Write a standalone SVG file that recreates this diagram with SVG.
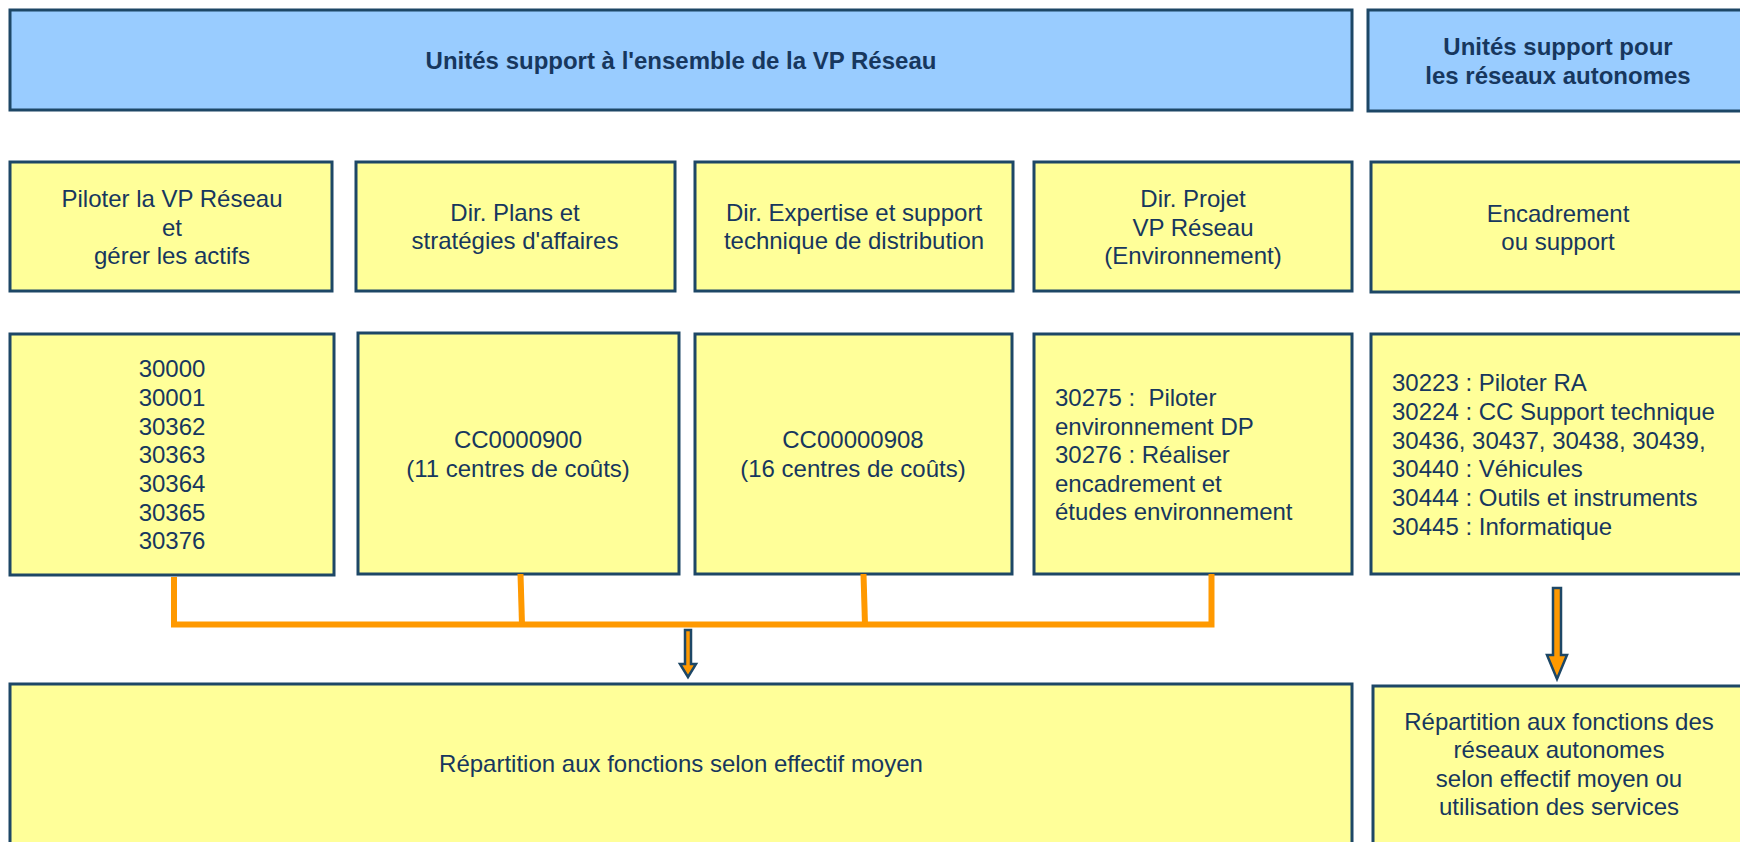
<svg xmlns="http://www.w3.org/2000/svg" width="1740" height="842" viewBox="0 0 1740 842">
<style>
.blue{fill:#99CCFF;stroke:#1D4766;stroke-width:3}
.yel{fill:#FFFF99;stroke:#1D4766;stroke-width:3}
text{font-family:"Liberation Sans",Arial,sans-serif;font-size:24px;fill:#17375E}
.c{text-anchor:middle}
.b{font-weight:bold}
.con{fill:none;stroke:#FF9900;stroke-width:6}
.arr{fill:#FF9900;stroke:#1D4766;stroke-width:2.5;stroke-linejoin:miter}
</style>
<rect width="1740" height="842" fill="#FFFFFF"/>
<g id="title-vp">
<rect class="blue" x="10" y="10" width="1342" height="100"/>
<text class="c b" x="681" y="69">Unités support à l'ensemble de la VP Réseau</text>
</g>
<g id="title-ra">
<rect class="blue" x="1368" y="10" width="380" height="101"/>
<text class="c b" x="1558" y="55">Unités support pour</text>
<text class="c b" x="1558" y="84">les réseaux autonomes</text>
</g>
<g id="h-piloter">
<rect class="yel" x="10" y="162" width="322" height="129"/>
<text class="c" x="172" y="207">Piloter la VP Réseau</text>
<text class="c" x="172" y="236">et</text>
<text class="c" x="172" y="264">gérer les actifs</text>
</g>
<g id="h-plans">
<rect class="yel" x="356" y="162" width="319" height="129"/>
<text class="c" x="515" y="221">Dir. Plans et</text>
<text class="c" x="515" y="249">stratégies d'affaires</text>
</g>
<g id="h-expertise">
<rect class="yel" x="695" y="162" width="318" height="129"/>
<text class="c" x="854" y="221">Dir. Expertise et support</text>
<text class="c" x="854" y="249">technique de distribution</text>
</g>
<g id="h-projet">
<rect class="yel" x="1034" y="162" width="318" height="129"/>
<text class="c" x="1193" y="207">Dir. Projet</text>
<text class="c" x="1193" y="236">VP Réseau</text>
<text class="c" x="1193" y="264">(Environnement)</text>
</g>
<g id="h-encadrement">
<rect class="yel" x="1371" y="162" width="380" height="130"/>
<text class="c" x="1558" y="222">Encadrement</text>
<text class="c" x="1558" y="250">ou support</text>
</g>
<g id="c-piloter">
<rect class="yel" x="10" y="334" width="324" height="241"/>
<text class="c" x="172" y="377">30000</text>
<text class="c" x="172" y="406">30001</text>
<text class="c" x="172" y="435">30362</text>
<text class="c" x="172" y="463">30363</text>
<text class="c" x="172" y="492">30364</text>
<text class="c" x="172" y="521">30365</text>
<text class="c" x="172" y="549">30376</text>
</g>
<g id="c-plans">
<rect class="yel" x="358" y="333" width="321" height="241"/>
<text class="c" x="518" y="448">CC0000900</text>
<text class="c" x="518" y="477">(11 centres de coûts)</text>
</g>
<g id="c-expertise">
<rect class="yel" x="695" y="334" width="317" height="240"/>
<text class="c" x="853" y="448">CC00000908</text>
<text class="c" x="853" y="477">(16 centres de coûts)</text>
</g>
<g id="c-projet">
<rect class="yel" x="1034" y="334" width="318" height="240"/>
<text x="1055" y="406">30275 :&#160; Piloter</text>
<text x="1055" y="435">environnement DP</text>
<text x="1055" y="463">30276 : Réaliser</text>
<text x="1055" y="492">encadrement et</text>
<text x="1055" y="520">études environnement</text>
</g>
<g id="c-ra">
<rect class="yel" x="1371" y="334" width="380" height="240"/>
<text x="1392" y="391">30223 : Piloter RA</text>
<text x="1392" y="420">30224 : CC Support technique</text>
<text x="1392" y="449">30436, 30437, 30438, 30439,</text>
<text x="1392" y="477">30440 : Véhicules</text>
<text x="1392" y="506">30444 : Outils et instruments</text>
<text x="1392" y="535">30445 : Informatique</text>
</g>
<g id="r-vp">
<rect class="yel" x="10" y="684" width="1342" height="200"/>
<text class="c" x="681" y="772">Répartition aux fonctions selon effectif moyen</text>
</g>
<g id="r-ra">
<rect class="yel" x="1373" y="686" width="380" height="200"/>
<text class="c" x="1559" y="730">Répartition aux fonctions des</text>
<text class="c" x="1559" y="758">réseaux autonomes</text>
<text class="c" x="1559" y="787">selon effectif moyen ou</text>
<text class="c" x="1559" y="815">utilisation des services</text>
</g>
<g id="connectors">
<path class="con" d="M174 577 L174 624.5 L1211.5 624.5 L1211.5 574"/>
<path class="con" d="M520.5 574 L522 624.5"/>
<path class="con" d="M863.5 574 L865 624.5"/>
<path class="arr" d="M685 630 L691 630 L691 664 L696 664 L688 677 L680 664 L685 664 Z"/>
<path class="arr" d="M1553 588 L1561 588 L1561 655 L1567 655 L1557 679 L1547 655 L1553 655 Z"/>
</g>
</svg>
